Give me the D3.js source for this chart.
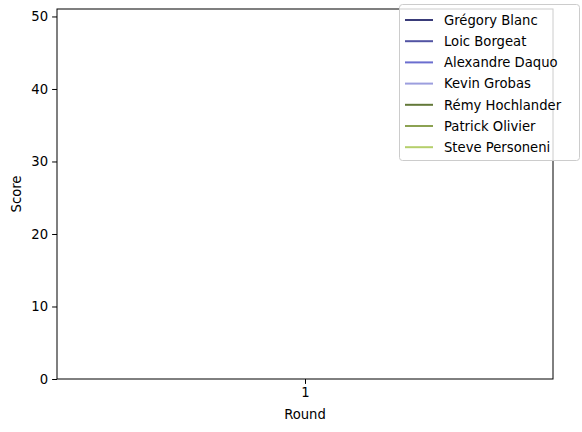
<!DOCTYPE html>
<html><head><meta charset="utf-8">
<script src="https://cdn.jsdelivr.net/npm/d3@7"></script>
<style>body{margin:0;background:#fff}text{font-family:"DejaVu Sans",sans-serif}</style>
</head><body>
<script>
const players = ["Grégory Blanc","Loic Borgeat","Alexandre Daquo","Kevin Grobas","Rémy Hochlander","Patrick Olivier","Steve Personeni"];
const colors = ["#393b79","#5254a3","#6b6ecf","#9c9ede","#637939","#8ca252","#b5cf6b"];
const rounds = [1];
const scores = [[0],[0],[0],[0],[0],[0],[0]];
const yTicks = [0,10,20,30,40,50];

const W = 582, H = 432, L = 57, R = 553, T = 9, B = 379;
const FS = 13.2;
const svg = d3.select("body").append("svg").attr("width", W).attr("height", H);

const x = d3.scaleLinear().domain([0.945, 1.055]).range([L, R]);
const y = d3.scaleLinear().domain([0, 51.03]).range([B, T]);

svg.append("g").attr("transform", `translate(0,${B})`)
  .call(d3.axisBottom(x).tickValues(rounds).tickFormat(d3.format("d")).tickSizeOuter(0).tickSize(4.9).tickPadding(4))
  .call(g => g.select(".domain").remove())
  .selectAll("text").attr("font-size", FS).attr("fill", "#000").attr("font-family", "DejaVu Sans");
svg.append("g").attr("transform", `translate(${L},0)`)
  .call(d3.axisLeft(y).tickValues(yTicks).tickSizeOuter(0).tickSize(4.9).tickPadding(4))
  .call(g => g.select(".domain").remove())
  .selectAll("text").attr("font-size", FS).attr("fill", "#000").attr("font-family", "DejaVu Sans");

const line = d3.line().x((d, i) => x(rounds[i])).y(d => y(d));
scores.forEach((s, i) => {
  svg.append("path").datum(s).attr("d", line).attr("fill", "none")
    .attr("stroke", colors[i]).attr("stroke-width", 2);
});

svg.append("rect").attr("x", L).attr("y", T).attr("width", R - L).attr("height", B - T)
  .attr("fill", "none").attr("stroke", "#000").attr("stroke-width", 1);

svg.append("text").attr("x", (L + R) / 2).attr("y", 419).attr("text-anchor", "middle")
  .attr("font-size", FS).text("Round");
svg.append("text").attr("transform", `translate(21,${(T + B) / 2}) rotate(-90)`)
  .attr("text-anchor", "middle").attr("font-size", FS).text("Score");

const lg = svg.append("g");
lg.append("rect").attr("x", 399.5).attr("y", 4.5).attr("width", 180).attr("height", 156)
  .attr("rx", 3).attr("fill", "#fff").attr("fill-opacity", 0.8).attr("stroke", "#ccc");
players.forEach((p, i) => {
  const yy = 20 + i * 21.2;
  lg.append("line").attr("x1", 405).attr("x2", 433).attr("y1", yy).attr("y2", yy)
    .attr("stroke", colors[i]).attr("stroke-width", 2);
  lg.append("text").attr("x", 444).attr("y", yy + 4.7).attr("font-size", FS).text(p);
});
</script>
</body></html>
